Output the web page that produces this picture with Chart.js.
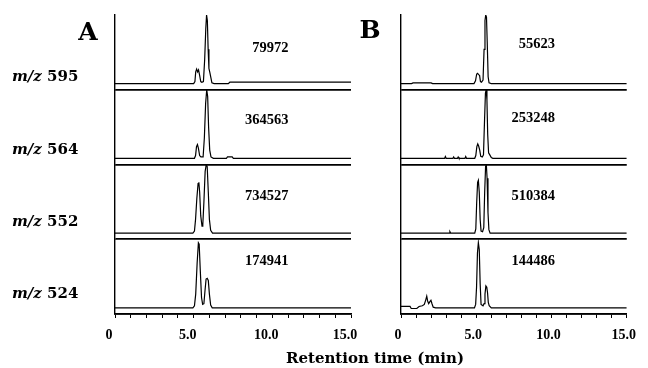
<!DOCTYPE html>
<html>
<head>
<meta charset="utf-8">
<script src="https://cdn.jsdelivr.net/npm/chart.js@4.4.0/dist/chart.umd.min.js"></script>
<style>
  html, body { margin: 0; padding: 0; background: #fff; }
  #wrap { position: relative; width: 648px; height: 368px; overflow: hidden; font-family: 'DejaVu Serif', serif; font-weight: bold; color: #000; }
  canvas { position: absolute; top: 0; }
  #cA { left: 0; }
  #cB { left: 376px; }
  .mz { position: absolute; left: 12px; font-size: 15px; line-height: 1; transform: translateY(-50%); white-space: nowrap; }
  .mz i { font-style: italic; }
  .panel { position: absolute; font-size: 25px; line-height: 1; transform: translate(-50%, -50%); }
  #xtitle { position: absolute; left: 375px; top: 358px; font-size: 15px; line-height: 1; transform: translate(-50%, -50%); white-space: nowrap; }
</style>
</head>
<body>
<div id="wrap">
  <canvas id="cA" width="376" height="368"></canvas>
  <canvas id="cB" width="272" height="368"></canvas>
  <div class="panel" style="left:88px; top:31px;">A</div>
  <div class="panel" style="left:370px; top:29px;">B</div>
  <div id="mzLabels"></div>
  <div id="xtitle">Retention time (min)</div>
</div>
<script>
// ion traces, top to bottom
const mzValues = ['595', '564', '552', '524'];
const areasA = ['79972', '364563', '734527', '174941'];
const areasB = ['55623', '253248', '510384', '144486'];
const labeledTicks = [0, 5, 10, 15];

// panel A, [time (min), relative intensity]
const a595 = [[0,0],[5.0,0],[5.08,0.03],[5.13,0.17],[5.19,0.21],[5.25,0.17],[5.31,0.2],[5.38,0.12],[5.45,0.03],[5.52,0.02],[5.62,0.03],[5.7,0.35],[5.77,0.8],[5.82,1.0],[5.87,0.92],[5.92,0.5],[5.97,0.22],[6.03,0.16],[6.1,0.08],[6.16,0.01],[6.3,0],[7.2,0],[7.3,0.02],[15,0.02]];
const a564 = [[0,0],[5.05,0],[5.12,0.04],[5.18,0.17],[5.24,0.2],[5.3,0.15],[5.38,0.04],[5.46,0.02],[5.6,0.02],[5.68,0.3],[5.76,0.8],[5.83,1.0],[5.89,0.9],[5.95,0.45],[6.02,0.12],[6.1,0.02],[6.25,0],[7.08,0],[7.15,0.02],[7.45,0.02],[7.52,0],[15,0]];
const a552 = [[0,0],[4.95,0],[5.05,0.03],[5.12,0.2],[5.2,0.5],[5.28,0.72],[5.33,0.74],[5.38,0.6],[5.45,0.25],[5.53,0.1],[5.58,0.12],[5.65,0.45],[5.73,0.9],[5.8,1.0],[5.86,0.97],[5.93,0.6],[6.0,0.2],[6.08,0.04],[6.2,0],[15,0]];
const a524 = [[0,0],[4.95,0],[5.05,0.03],[5.13,0.2],[5.22,0.65],[5.3,0.95],[5.35,0.93],[5.42,0.55],[5.5,0.15],[5.57,0.05],[5.65,0.06],[5.72,0.25],[5.79,0.42],[5.86,0.43],[5.93,0.4],[6.0,0.2],[6.08,0.04],[6.18,0],[15,0]];

// panel B
const b595 = [[0,0],[0.7,0],[0.8,0.01],[2.0,0.01],[2.1,0],[4.85,0],[4.95,0.04],[5.03,0.14],[5.09,0.15],[5.15,0.13],[5.22,0.12],[5.28,0.03],[5.35,0.02],[5.45,0.05],[5.52,0.5],[5.58,0.92],[5.63,1.0],[5.68,0.97],[5.73,0.6],[5.79,0.1],[5.85,0.01],[6.0,0],[15,0]];
const b564 = [[0,0],[2.9,0],[2.95,0.025],[3.0,0],[3.45,0],[3.5,0.02],[3.55,0],[3.75,0],[3.8,0.02],[3.85,0],[4.25,0],[4.3,0.025],[4.35,0],[4.9,0],[4.97,0.04],[5.04,0.17],[5.1,0.21],[5.16,0.18],[5.23,0.12],[5.3,0.03],[5.4,0.02],[5.48,0.05],[5.55,0.55],[5.61,0.95],[5.66,1.0],[5.71,0.85],[5.76,0.35],[5.82,0.08],[5.9,0.05],[6.0,0.01],[6.1,0],[15,0]];
const b552 = [[0,0],[3.2,0],[3.25,0.02],[3.3,0],[4.9,0],[4.97,0.06],[5.03,0.45],[5.09,0.74],[5.14,0.77],[5.2,0.6],[5.26,0.2],[5.32,0.03],[5.42,0.02],[5.5,0.08],[5.56,0.6],[5.62,0.97],[5.67,1.0],[5.72,0.8],[5.78,0.3],[5.84,0.05],[5.92,0],[15,0]];
const b524 = [[0,0.02],[0.6,0.02],[0.68,-0.01],[1.05,-0.01],[1.2,0.02],[1.42,0.03],[1.55,0.05],[1.65,0.12],[1.71,0.17],[1.77,0.1],[1.84,0.06],[1.92,0.09],[1.99,0.11],[2.06,0.06],[2.14,0.01],[2.3,0],[4.88,0],[4.96,0.05],[5.02,0.3],[5.08,0.8],[5.14,0.95],[5.2,0.85],[5.26,0.35],[5.32,0.05],[5.45,0.03],[5.52,0.06],[5.58,0.2],[5.64,0.32],[5.7,0.3],[5.75,0.22],[5.8,0.08],[5.86,0.03],[6.0,0],[15,0]];

const tracesA = [a595, a564, a552, a524];
const tracesB = [b595, b564, b552, b524];

const stripIds = ['s0', 's1', 's2', 's3'];

// m/z labels on the left
const mzBox = document.getElementById('mzLabels');
const mzTops = [76, 149, 221, 292.5];
mzValues.forEach((v, i) => {
  const d = document.createElement('div');
  d.className = 'mz';
  d.style.top = mzTops[i] + 'px';
  d.innerHTML = '<i>m/z</i> ' + v;
  mzBox.appendChild(d);
});

const areaLabels = {
  id: 'areaLabels',
  afterDatasetsDraw(chart, args, opts) {
    const ctx = chart.ctx;
    const x = chart.scales.x.getPixelForValue(opts.at);
    ctx.save();
    ctx.font = 'bold 14.5px "Liberation Serif"';
    ctx.fillStyle = '#000';
    ctx.textAlign = 'right';
    ctx.textBaseline = 'middle';
    opts.texts.forEach((t, i) => {
      const y = chart.scales[stripIds[i]].getPixelForValue(opts.heights[i]);
      ctx.fillText(t, x, y);
    });
    ctx.restore();
  }
};

function stripScale() {
  return {
    type: 'linear',
    position: 'left',
    stack: 'strips',
    stackWeight: 1,
    offset: false,
    min: -0.09,
    max: 1.0,
    afterBuildTicks: s => { s.ticks = [{ value: s.min }]; },
    afterFit: s => { s.width = 0; },
    ticks: { display: false },
    grid: { color: '#000', lineWidth: 1.8, drawTicks: false },
    border: { display: true, color: '#000', width: 1.4 },
  };
}

function makePanel(id, traces, areas, cfg) {
  const scales = {
    x: {
      type: 'linear',
      min: 0,
      max: 15,
      afterFit: s => { s.height = 54; },
      ticks: {
        stepSize: 1,
        autoSkip: false,
        maxRotation: 0,
        padding: 9,
        labelOffset: cfg.labelOffset,
        color: '#000',
        font: { family: 'Liberation Serif', size: 14, weight: 'bold' },
        callback: v => labeledTicks.includes(v) ? (v === 0 ? '0' : v.toFixed(1)) : '',
      },
      grid: { drawOnChartArea: false, tickLength: 4, color: '#000', lineWidth: 1 },
      border: { color: '#000', width: 1.5 },
    },
  };
  // stacked left axes are laid out bottom-up, so add the lowest strip first
  [...stripIds].reverse().forEach(s => { scales[s] = stripScale(); });

  return new Chart(document.getElementById(id), {
    type: 'line',
    data: {
      datasets: traces.map((t, i) => ({
        label: 'm/z ' + mzValues[i],
        data: t,
        yAxisID: stripIds[i],
        borderColor: '#000',
        borderWidth: 1.2,
        pointRadius: 0,
        fill: false,
        tension: 0,
      })),
    },
    options: {
      responsive: false,
      animation: false,
      layout: { padding: { left: cfg.left, right: cfg.right, top: 15, bottom: 0 } },
      plugins: {
        legend: { display: false },
        tooltip: { enabled: false },
        areaLabels: { texts: areas, at: cfg.labelAt, heights: cfg.labelHeights },
      },
      scales,
    },
    plugins: [areaLabels],
  });
}

makePanel('cA', tracesA, areasA, {
  left: 115, right: 25, labelOffset: -6,
  labelAt: 11.03, labelHeights: [0.52, 0.56, 0.53, 0.68],
});
makePanel('cB', tracesB, areasB, {
  left: 25, right: 16, labelOffset: -3,
  labelAt: 10.24, labelHeights: [0.58, 0.59, 0.54, 0.68],
});
</script>
</body>
</html>
